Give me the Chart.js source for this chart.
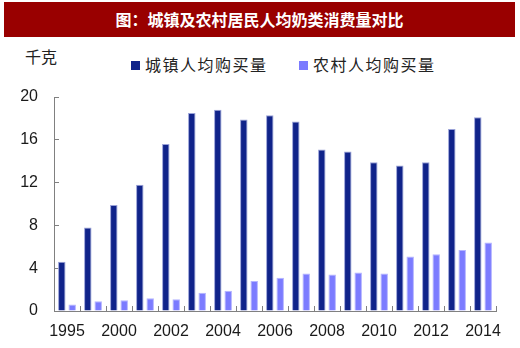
<!DOCTYPE html>
<html>
<head>
<meta charset="utf-8">
<script src="https://cdn.jsdelivr.net/npm/chart.js@4"></script>
<style>
  body { margin:0; width:520px; height:348px; background:#fff; position:relative; overflow:hidden;
         font-family:"Noto Sans CJK SC", sans-serif; }
  #title { position:absolute; left:4px; top:2px; width:511px; height:35px; background:#990000;
           color:#fff; font-weight:bold; font-size:16px; line-height:35px; text-align:center; }
  #unit { position:absolute; left:25px; top:44px; font-size:16px; color:#222; }
  .leg { position:absolute; top:55px; font-size:16px; letter-spacing:1.5px; color:#222; line-height:18px; }
  .sw { display:inline-block; width:9px; height:9px; margin-right:5px; vertical-align:1px; }
  #wrap { position:absolute; left:0; top:80px; width:520px; height:268px; }
</style>
</head>
<body>
<div id="title">图：城镇及农村居民人均奶类消费量对比</div>
<div id="unit">千克</div>
<div class="leg" style="left:131px"><span class="sw" style="background:#10238a"></span>城镇人均购买量</div>
<div class="leg" style="left:299px"><span class="sw" style="background:#7b7bff"></span>农村人均购买量</div>
<div id="wrap"><canvas id="chart"></canvas></div>
<script>
// years (second one is not labelled on the axis)
const years = ['1995', '1998', '2000', '2001', '2002', '2003', '2004', '2005', '2006',
  '2007', '2008', '2009', '2010', '2011', '2012', '2013', '2014'];
const urban = [4.6, 7.8, 9.9, 11.8, 15.6, 18.5, 18.8, 17.9, 18.3, 17.7, 15.1, 14.9, 13.9, 13.6, 13.9, 17.0, 18.1];
const rural = [0.6, 0.9, 1.0, 1.2, 1.1, 1.7, 1.9, 2.8, 3.1, 3.5, 3.4, 3.6, 3.5, 5.1, 5.3, 5.7, 6.4];
const seriesNames = ['城镇人均购买量', '农村人均购买量'];

const axisColor = '#808080';
const tickFont = { family: '"Liberation Sans", Arial, sans-serif', size: 16 };

new Chart(document.getElementById('chart'), {
  type: 'bar',
  data: {
    labels: years,
    datasets: [
      { label: seriesNames[0], data: urban, backgroundColor: '#10238a',
        borderColor: '#9aa2d8', borderWidth: 1,
        categoryPercentage: 0.8, barPercentage: 0.72 },
      { label: seriesNames[1], data: rural, backgroundColor: '#7b7bff',
        borderColor: '#b4b4ff', borderWidth: 1,
        categoryPercentage: 0.8, barPercentage: 0.72 }
    ]
  },
  options: {
    responsive: true,
    maintainAspectRatio: false,
    animation: false,
    layout: { padding: { top: 17, right: 24, left: 0, bottom: 0 } },
    plugins: { legend: { display: false }, tooltip: { enabled: false } },
    scales: {
      x: {
        grid: { drawOnChartArea: false, drawTicks: true, tickLength: -5, color: axisColor },
        border: { display: true, color: axisColor },
        ticks: {
          autoSkip: false, maxRotation: 0, padding: 16, color: '#1a1a1a', font: tickFont,
          callback: (v, i) => (i % 2 === 0 ? years[i] : '')
        },
        afterFit: s => { s.height = 37; s.paddingLeft = 0; s.paddingRight = 0; }
      },
      y: {
        min: 0, max: 20,
        grid: { drawOnChartArea: false, drawTicks: true, tickLength: -5, color: axisColor },
        border: { display: true, color: axisColor },
        ticks: { stepSize: 4, padding: 21, color: '#1a1a1a', font: tickFont },
        afterFit: s => { s.width = 54; s.paddingTop = 0; s.paddingBottom = 0; }
      }
    }
  }
});
</script>
</body>
</html>
